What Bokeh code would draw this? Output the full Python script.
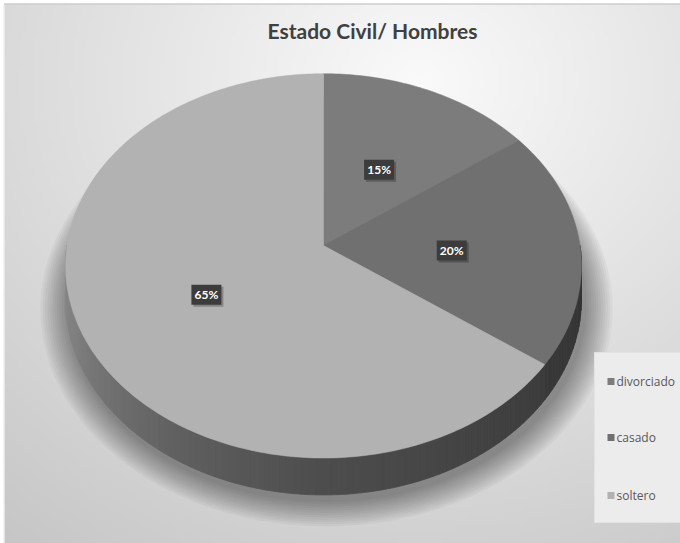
import math
import numpy as np
from bokeh.plotting import figure
from bokeh.models import Range1d
from bokeh.core.properties import value
from bokeh.embed import file_html
from bokeh.resources import INLINE

# ---- data ----
categories = ["divorciado", "casado", "soltero"]
values = [15, 20, 65]
labels = ["15%", "20%", "65%"]
title_text = "Estado Civil/ Hombres"

# ---- style / geometry ----
W, Hh = 680, 543
top_colors = ["#7c7c7c", "#707070", "#b2b2b2"]
CX, CY = 323.0, 245.0      # pie centre (screen px, y down)
A, B = 256.5, 190.0        # ellipse half axes
K = 0.106                  # perspective factor
DEPTH = 33.0               # side depth


def proj(theta_deg, r=1.0, h=0.0):
    t = math.radians(theta_deg)
    w = 1 + K * r * math.cos(t)
    x = CX + A * r * math.sin(t) / w
    ys = CY - B * r * math.cos(t) / w + h * DEPTH / w
    return x, Hh - ys


def hexgray(g):
    g = int(max(0, min(255, round(g))))
    return "#%02x%02x%02x" % (g, g, g)


def lum(c):
    return int(c[1:3], 16)


side_pts = [(90, 54), (126, 60), (180, 77), (210, 95), (250, 128), (270, 138)]


def side_gray(th):
    for (a0, g0), (a1, g1) in zip(side_pts[:-1], side_pts[1:]):
        if a0 <= th <= a1:
            return g0 + (g1 - g0) * (th - a0) / (a1 - a0)
    return side_pts[-1][1]


p = figure(width=W, height=Hh, x_range=Range1d(0, W), y_range=Range1d(0, Hh),
           output_backend="svg", toolbar_location=None, min_border=0,
           background_fill_color="white", border_fill_color="white")
p.axis.visible = False
p.grid.visible = False
p.outline_line_color = None

# ---- background gradient ----
nx, ny = 170, 135
gx = np.linspace(4, W, nx)
gy_screen = np.linspace(Hh, 4, ny)  # row 0 = bottom
X, Y = np.meshgrid(gx, gy_screen)
d = np.sqrt(((X - 420) / 600.0) ** 2 + ((Y - 80) / 520.0) ** 2)
g = np.clip(250 - 46 * d, 0, 255).astype(np.uint8)
img = np.empty((ny, nx), dtype=np.uint32)
view = img.view(dtype=np.uint8).reshape((ny, nx, 4))
view[:, :, 0] = g
view[:, :, 1] = g
view[:, :, 2] = g
view[:, :, 3] = 255
p.image_rgba(image=[img], x=4, y=0, dw=W - 4, dh=Hh - 4)

# frame lines
p.line([3.5, W], [Hh - 3.5, Hh - 3.5], line_color="#b4b4b4", line_width=1)
p.line([3.5, 3.5], [0, Hh - 3.5], line_color="#e6e6e6", line_width=1)

# ---- soft shadow ----
for i in range(12):
    s = 1.0 + 0.009 * (12 - i)
    xs, ys = [], []
    for th in range(0, 361, 3):
        x, y = proj(th, r=s, h=1.0)
        xs.append(x + 3)
        ys.append(y - 5)
    p.patch(xs, ys, fill_color="black", fill_alpha=0.035, line_color=None)

total = float(sum(values))
bounds = []
acc = 0.0
for v in values:
    a0 = acc / total * 360.0
    acc += v
    a1 = acc / total * 360.0
    bounds.append((a0, a1))

# ---- side strips ----
sxs, sys_, scol = [], [], []
for i, (a0, a1) in enumerate(bounds):
    lo, hi = max(a0, 90.0), min(a1, 270.0)
    if lo >= hi:
        continue
    n = max(2, int((hi - lo) / 1.5))
    fac = 0.85 + 0.15 * lum(top_colors[i]) / lum(top_colors[2])
    for j in range(n):
        t0 = lo + (hi - lo) * j / n
        t1 = lo + (hi - lo) * (j + 1) / n
        p0 = proj(t0); p1 = proj(t1)
        q1 = proj(t1, h=1.0); q0 = proj(t0, h=1.0)
        sxs.append([p0[0], p1[0], q1[0], q0[0]])
        sys_.append([p0[1], p1[1], q1[1], q0[1]])
        scol.append(hexgray(side_gray((t0 + t1) / 2) * fac))
p.patches(sxs, sys_, fill_color=scol, line_color=scol, line_width=0.8)

# ---- top faces ----
for i, (a0, a1) in enumerate(bounds):
    xs, ys = [CX], [Hh - CY]
    n = max(4, int((a1 - a0) / 1.0))
    for j in range(n + 1):
        x, y = proj(a0 + (a1 - a0) * j / n)
        xs.append(x)
        ys.append(y)
    p.patch(xs, ys, fill_color=top_colors[i], line_color=top_colors[i], line_width=0.5)

# ---- data labels ----
lx, ly = [], []
for (a0, a1) in bounds:
    x, y = proj((a0 + a1) / 2, r=0.5)
    lx.append(x)
    ly.append(y - 5)
p.rect([x + 2 for x in lx], [y - 2 for y in ly], width=30, height=20,
       fill_color="black", fill_alpha=0.25, line_color=None)
p.rect(lx, ly, width=30, height=20, fill_color="#3c3c3c", line_color=None)
p.text(lx, ly, text=labels, text_font=value("Lato"), text_font_size="12px",
       text_font_style="bold", text_color="white", text_align="center",
       text_baseline="middle")

# ---- title ----
p.text([372], [Hh - 30], text=[title_text], text_font=value("Lato"),
       text_font_size="21px", text_font_style="bold", text_color="#404040",
       text_align="center", text_baseline="middle")

# ---- legend ----
p.quad(left=[594], right=[W + 10], top=[Hh - 352], bottom=[Hh - 522],
       fill_color="#ececec", line_color="#e2e2e2")
leg_y = [Hh - 381, Hh - 437, Hh - 495]
p.rect([610.5] * 3, leg_y, width=7, height=7, fill_color=top_colors,
       line_color=None)
p.text([616] * 3, leg_y, text=categories, text_font=value("Open Sans"),
       text_font_size="12px", text_color="#595959", text_align="left",
       text_baseline="middle")

open("out.html", "w").write(file_html(p, INLINE))
